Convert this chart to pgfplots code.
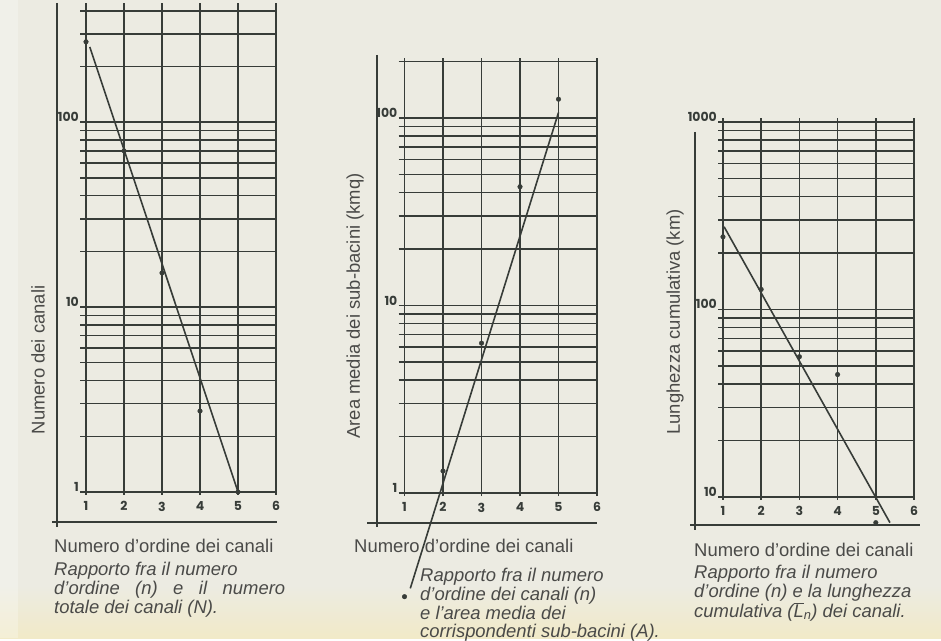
\documentclass[border=0pt]{standalone}
\usepackage{pgfplots}
\pgfplotsset{compat=1.18}
\usepackage{fontspec}
\setmainfont{Liberation Sans}
\newfontfamily\tickfont[Numbers=Lining]{Poppins}

\definecolor{paper}{RGB}{236,235,226}
\definecolor{band}{RGB}{241,234,200}
\definecolor{ink}{RGB}{55,60,56}
\definecolor{txt}{RGB}{74,74,72}

\pgfplotsset{
  bacino/.style={
    scale only axis, clip=false, anchor=south west,
    axis line style={draw=none},
    tick style={draw=none},
    grid=both,
    major grid style={ink, line width=1.5bp},
    minor grid style={ink, line width=1.5bp},
    xtick={1,2,3,4,5,6},
    xticklabels={1,2,3,4,5,6},
    tick label style={font=\tickfont\bfseries\fontsize{12.5}{12.5}\selectfont, text=ink, inner sep=0pt},
    xticklabel style={anchor=north, yshift=-6.5bp},
    yticklabel style={anchor=south east, xshift=-1bp, yshift=0.3bp},
  },
  retta/.style={ink, line width=1.6bp},
  punti/.style={only marks, mark=*, mark size=2.3bp, ink},
}

\newcommand{\didasc}[3]{\node[anchor=base west, inner sep=0pt, text=txt, font=\fontsize{18.5}{18.5}\selectfont] at (#1,#2) {#3};}

\begin{document}
\begin{tikzpicture}
\begin{scope}[x=1bp, y=1bp]
\useasboundingbox (0,0) rectangle (941,638);
\fill[paper] (0,0) rectangle (941,638);
\shade[bottom color=band, top color=paper] (0,0) rectangle (941,53);
\fill[white, opacity=0.25] (0,0) rectangle (18,638);
\end{scope}

% 1: numero dei canali
\begin{axis}[ymode=log, bacino, at={(80bp,143bp)}, width=196bp, height=492bp,
  xmin=0.842, xmax=6, ymin=0.963, ymax=441,
  ytick={1,10,100}, yticklabels={1,10,100},
  minor ytick={2,3,4,5,6,7,8,9,20,30,40,50,60,70,80,90,200,300,400}]
\addplot[retta] coordinates {(1.1,255) (5,1)};
\addplot[punti] coordinates {(1,272) (2,70) (3,15.3) (4,2.74) (5,1)};
\end{axis}

% 2: area media dei sub-bacini
\begin{axis}[ymode=log, bacino, at={(398.5bp,142bp)}, width=198.5bp, height=438.4bp,
  xmin=0.844, xmax=6, ymin=0.964, ymax=210,
  ytick={1,10,100}, yticklabels={1,10,100},
  minor ytick={2,3,4,5,6,7,8,9,20,30,40,50,60,70,80,90,200}]
\addplot[retta] coordinates {(1.15,0.31) (5.0,107)};
\addplot[punti] coordinates {(1,0.28) (2,1.31) (3,6.3) (4,43) (5,126)};
\end{axis}

% 3: lunghezza cumulativa
\begin{axis}[ymode=log, bacino, at={(718bp,138bp)}, width=196bp, height=382bp,
  xmin=0.87, xmax=6, ymin=9.64, ymax=1050,
  ytick={10,100,1000}, yticklabels={10,100,1000},
  minor ytick={20,30,40,50,60,70,80,90,200,300,400,500,600,700,800,900}]
\addplot[retta] coordinates {(1.03,276) (5.37,7.3)};
\addplot[punti] coordinates {(1,244) (2,128) (3,56) (4,45) (5,7.3)};
\end{axis}

\begin{scope}[x=1bp, y=1bp]
% assi esterni
\begin{scope}[ink, line width=1.4bp]
\draw (57,635) -- (57,111);   \draw (52,116) -- (277,116);
\draw (377,583) -- (377,111); \draw (367,115) -- (597,115);
\draw (695,506) -- (695,108); \draw (690,113) -- (920,113);
\end{scope}

% titoli degli assi y
\begin{scope}[font=\fontsize{18.5}{18.5}\selectfont, text=txt]
\node[rotate=90] at (38,278) {Numero dei canali};
\node[rotate=90] at (355,332) {Area media dei sub-bacini (kmq)};
\node[rotate=90] at (675,316) {Lunghezza cumulativa (km)};
\end{scope}

% didascalie
\didasc{54}{86}{Numero d’ordine dei canali}
\didasc{54}{63}{\itshape Rapporto fra il numero}
\didasc{54}{44}{\itshape\makebox[231bp][l]{d’ordine\hfill(n)\hfill e\hfill il\hfill numero}}
\didasc{54}{25}{\itshape totale dei canali (N).}

\didasc{354}{86}{Numero d’ordine dei canali}
\didasc{420}{57}{\itshape Rapporto fra il numero}
\didasc{420}{38}{\itshape d’ordine dei canali (n)}
\didasc{420}{19}{\itshape e l’area media dei}
\didasc{420}{1}{\itshape corrispondenti sub-bacini (A).}

\didasc{694}{82}{Numero d’ordine dei canali}
\didasc{694}{60}{\itshape Rapporto fra il numero}
\didasc{694}{41}{\itshape d’ordine (n) e la lunghezza}
\didasc{694}{21}{\itshape cumulativa ($\overline{\mbox{\itshape L}}$\textsubscript{n}) dei canali.}
\end{scope}
\end{tikzpicture}
\end{document}
